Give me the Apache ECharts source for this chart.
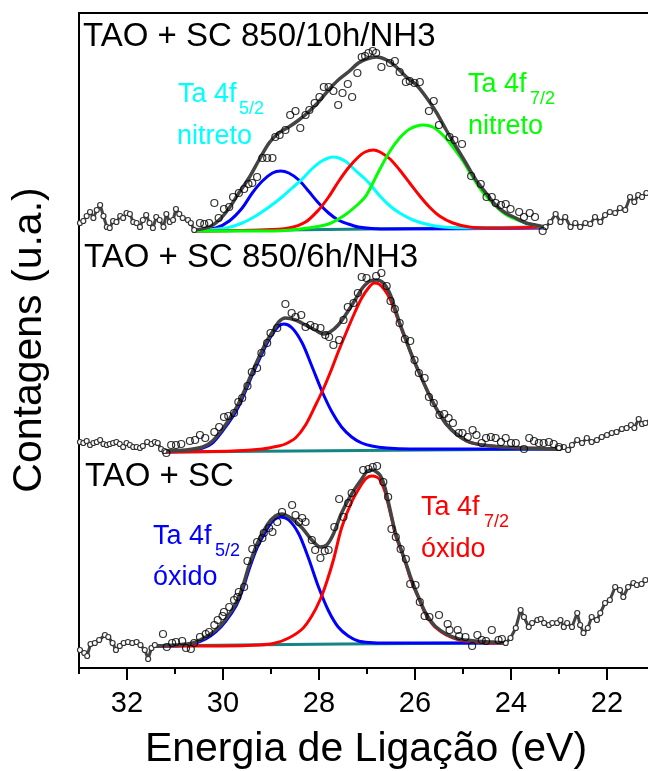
<!DOCTYPE html>
<html>
<head>
<meta charset="utf-8">
<script src="https://cdn.jsdelivr.net/npm/echarts/dist/echarts.min.js"></script>
<style>html,body{margin:0;padding:0;background:#fff;overflow:hidden;width:648px;height:771px;}#c{width:710px;height:771px;}</style>
</head>
<body>
<div id="c"></div>
<script>
// ---------- DATA (x = binding energy eV, y = counts a.u.) ----------
const xTickLabels = [32, 30, 28, 26, 24, 22];

// Top: TAO + SC 850/10h/NH3
const s1NoiseL = [[32.98,445],[32.91,447],[32.84,452],[32.77,456],[32.70,450],[32.63,458],[32.56,463],[32.49,452],[32.42,441],[32.36,440],[32.29,447],[32.22,446],[32.14,452],[32.08,450],[32.01,455],[31.94,454],[31.87,446],[31.80,445],[31.73,441],[31.67,448],[31.60,453],[31.53,445],[31.46,440],[31.39,451],[31.32,448],[31.24,441],[31.18,454],[31.11,446],[31.04,448],[30.98,459],[30.91,454],[30.84,450],[30.73,448],[30.67,445],[30.60,438]];
const s1NoiseR = [[23.28,441],[23.18,446],[23.07,454],[22.97,446],[22.87,451],[22.76,441],[22.66,445],[22.56,441],[22.45,445],[22.35,444],[22.25,451],[22.14,446],[22.04,453],[21.94,456],[21.83,455],[21.73,460],[21.62,458],[21.52,471],[21.43,466],[21.35,473],[21.27,471],[21.18,475],[21.05,478]];
const s1Points = [[30.48,445],[30.39,444],[30.29,445],[30.18,465],[30.09,450],[29.98,459],[29.87,461],[29.79,471],[29.67,475],[29.56,479],[29.47,484],[29.39,485],[29.29,491],[29.18,510],[29.08,510],[28.97,510],[28.91,531],[28.82,533],[28.70,538],[28.60,553],[28.49,557],[28.39,540],[28.28,553],[28.20,558],[28.09,565],[27.99,571],[27.90,581],[27.80,581],[27.70,577],[27.60,563],[27.51,575],[27.40,584],[27.31,571],[27.20,595],[27.11,611],[27.04,612],[26.97,615],[26.88,617],[26.81,615],[26.70,601],[26.52,605],[26.42,607],[26.32,596],[26.19,586],[26.11,587],[26.01,585],[25.90,586],[25.71,557],[25.61,567],[25.50,543],[25.28,531],[25.18,528],[25.02,524],[24.83,492],[24.63,484],[24.51,471],[24.40,471],[24.32,465],[24.21,463],[24.11,464],[24.01,459],[23.83,456],[23.73,451],[23.61,455],[23.50,451],[23.34,437]];
const s1Envelope = [[30.60,438],[30.29,441],[30.08,448],[29.87,460],[29.67,475],[29.46,490],[29.25,508],[29.04,525],[28.84,535],[28.63,541],[28.42,548],[28.22,556],[28.01,566],[27.80,578],[27.60,588],[27.39,596],[27.18,605],[27.01,609],[26.80,611],[26.59,608],[26.39,601],[26.18,591],[25.97,583],[25.77,571],[25.56,556],[25.35,538],[25.14,521],[24.94,505],[24.73,488],[24.52,475],[24.32,463],[24.11,455],[23.90,450],[23.69,445],[23.49,443],[23.28,441]];
const s1Blue = [[30.60,437],[30.15,440],[29.87,447],[29.60,460],[29.39,475],[29.18,487],[28.97,495],[28.80,497],[28.63,495],[28.42,488],[28.22,477],[28.01,465],[27.80,455],[27.60,448],[27.39,444],[27.18,441],[26.90,439.5],[26.50,439],[23.28,440]];
const s1Cyan = [[30.60,437],[29.94,440],[29.60,445],[29.32,452],[29.04,461],[28.77,471],[28.56,480],[28.37,488],[28.15,499],[27.94,507],[27.70,511],[27.46,507],[27.25,498],[27.04,489],[26.94,484],[26.73,472],[26.52,462],[26.32,455],[26.04,448],[25.77,444],[25.42,441],[24.94,440],[23.28,441]];
const s1Red = [[30.60,437],[29.18,438],[28.63,440],[28.28,446],[28.01,458],[27.80,471],[27.60,486],[27.39,500],[27.18,511],[27.04,516],[26.87,518],[26.73,516],[26.52,509],[26.32,498],[26.11,485],[25.90,472],[25.70,461],[25.49,452],[25.21,445],[24.87,441],[24.38,440],[23.28,441]];
const s1Green = [[30.60,437],[28.91,437],[28.22,440],[27.80,444],[27.46,453],[27.18,464],[27.04,471],[26.94,479],[26.73,499],[26.52,517],[26.32,530],[26.11,539],[25.83,543],[25.63,541],[25.42,533],[25.21,521],[25.00,507],[24.80,491],[24.59,476],[24.38,465],[24.18,456],[23.97,450],[23.69,445],[23.42,442],[23.28,441]];
const s1Base = [[30.60,437],[23.28,441]];

// Middle: TAO + SC 850/6h/NH3
const s2NoiseL = [[32.98,226],[32.91,225],[32.84,227],[32.77,223],[32.70,225],[32.63,226],[32.56,228],[32.49,224],[32.42,223],[32.36,224],[32.29,225],[32.22,226],[32.15,224],[32.08,221],[32.01,225],[31.94,223],[31.87,221],[31.80,221],[31.73,220],[31.67,222],[31.58,226],[31.49,224],[31.42,226],[31.36,225],[31.29,219],[31.22,217]];
const s2NoiseR = [[23.00,220],[22.90,221],[22.81,218],[22.73,223],[22.62,228],[22.52,225],[22.42,230],[22.32,226],[22.21,228],[22.11,231],[22.00,233],[21.90,235],[21.80,236],[21.69,239],[21.59,240],[21.50,243],[21.43,240],[21.34,249],[21.27,244],[21.20,245],[21.05,250]];
const s2Points = [[31.18,215],[31.08,223],[30.98,223],[30.87,224],[30.69,227],[30.58,228],[30.48,233],[30.37,230],[30.18,236],[30.08,241],[29.98,251],[29.89,252],[29.77,255],[29.68,266],[29.60,270],[29.49,282],[29.40,296],[29.29,300],[29.20,315],[29.08,325],[29.01,335],[28.87,340],[28.70,364],[28.57,355],[28.49,351],[28.37,353],[28.28,341],[28.18,343],[28.09,341],[27.97,340],[27.87,333],[27.79,331],[27.70,323],[27.58,328],[27.49,348],[27.40,361],[27.28,365],[27.19,375],[27.11,391],[27.01,390],[26.81,392],[26.70,395],[26.59,382],[26.51,367],[26.42,359],[26.32,345],[26.21,329],[26.10,327],[26.01,308],[25.92,295],[25.80,290],[25.71,271],[25.61,265],[25.49,253],[25.39,254],[25.30,250],[25.21,245],[25.09,235],[25.01,235],[24.90,231],[24.80,238],[24.72,233],[24.61,225],[24.52,230],[24.42,231],[24.32,230],[24.21,226],[24.11,230],[24.00,225],[23.90,225],[23.73,219],[23.62,230],[23.52,227],[23.42,225],[23.32,225],[23.21,226],[23.11,224],[23.00,221]];
const s2Envelope = [[31.22,217],[30.77,218],[30.42,221],[30.22,227],[30.01,239],[29.80,254],[29.67,265],[29.53,280],[29.39,296],[29.25,311],[29.11,325],[28.97,336],[28.84,346],[28.70,350],[28.49,348],[28.28,343],[28.08,338],[27.91,334],[27.77,336],[27.60,343],[27.42,355],[27.25,368],[27.11,379],[27.02,384],[26.94,387],[26.80,388],[26.66,385],[26.52,374],[26.42,360],[26.32,345],[26.21,331],[26.11,318],[26.01,306],[25.90,294],[25.77,280],[25.63,266],[25.49,254],[25.35,244],[25.14,234],[24.87,226],[24.59,223],[24.18,221],[23.69,220],[23.14,219],[23.00,219]];
const s2Blue = [[31.22,216],[30.77,217],[30.42,220],[30.22,225],[30.01,237],[29.80,251],[29.67,262],[29.53,277],[29.39,293],[29.25,308],[29.11,322],[28.97,334],[28.84,342],[28.73,344],[28.56,340],[28.35,325],[28.15,302],[27.94,277],[27.73,256],[27.53,241],[27.32,231],[27.11,225],[26.90,222],[26.59,220],[26.11,219],[23.00,219]];
const s2Red = [[31.22,216],[29.80,217],[29.18,219],[28.84,222],[28.70,224],[28.49,230],[28.28,243],[28.08,262],[27.91,279],[27.77,295],[27.60,316],[27.42,337],[27.25,356],[27.11,370],[26.97,380],[26.85,385],[26.75,384],[26.63,378],[26.52,369],[26.42,357],[26.32,344],[26.21,330],[26.11,318],[26.01,306],[25.90,294],[25.77,280],[25.63,266],[25.49,254],[25.35,244],[25.14,234],[24.87,226],[24.59,223],[24.18,221],[23.69,220],[23.00,219]];
const s2Base = [[31.22,216],[23.00,219]];

// Bottom: TAO + SC
const s3NoiseL = [[32.98,18],[32.89,15],[32.83,12],[32.76,24],[32.67,25],[32.58,28],[32.46,33],[32.39,31],[32.30,25],[32.23,18],[32.15,22],[32.07,25],[31.98,26],[31.89,25],[31.80,26],[31.72,23],[31.63,18],[31.56,9],[31.49,20],[31.42,23]];
const s3NoiseR = [[24.11,25],[24.01,30],[23.90,40],[23.80,58],[23.73,51],[23.63,41],[23.56,45],[23.45,48],[23.38,49],[23.31,45],[23.21,43],[23.14,45],[23.04,45],[22.97,48],[22.90,41],[22.83,45],[22.73,41],[22.62,55],[22.56,43],[22.49,35],[22.40,40],[22.32,51],[22.21,48],[22.14,55],[22.04,65],[21.94,68],[21.83,81],[21.73,78],[21.66,71],[21.56,81],[21.45,85],[21.38,83],[21.28,84],[21.20,88],[21.05,90]];
const s3Points = [[31.25,34],[31.17,21],[31.06,25],[30.98,26],[30.85,27],[30.77,20],[30.67,19],[30.60,25],[30.48,31],[30.36,34],[30.29,36],[30.18,43],[30.11,48],[30.01,52],[29.98,56],[29.87,61],[29.77,68],[29.70,71],[29.67,76],[29.56,81],[29.49,107],[29.39,119],[29.29,126],[29.18,130],[29.15,135],[29.04,140],[28.97,136],[28.87,146],[28.77,156],[28.56,163],[28.49,153],[28.42,146],[28.35,150],[28.28,146],[28.15,128],[28.08,118],[27.97,110],[27.88,117],[27.80,118],[27.68,141],[27.58,169],[27.49,151],[27.39,165],[27.32,175],[27.08,198],[26.97,199],[26.88,201],[26.79,202],[26.66,186],[26.56,171],[26.49,139],[26.40,131],[26.30,119],[26.19,109],[26.10,84],[25.99,83],[25.90,66],[25.80,52],[25.70,51],[25.50,53],[25.32,44],[25.28,38],[25.11,38],[25.08,32],[24.95,31],[24.81,22],[24.70,33],[24.61,28],[24.52,27],[24.40,38],[24.26,28],[24.19,29]];
const s3Envelope = [[31.42,22],[30.98,23],[30.63,25],[30.36,31],[30.15,38],[29.94,49],[29.73,65],[29.60,80],[29.46,102],[29.29,124],[29.08,143],[28.91,152],[28.77,154],[28.56,149],[28.35,140],[28.15,128],[27.97,121],[27.84,123],[27.70,134],[27.53,155],[27.32,174],[27.11,189],[27.01,196],[26.90,198],[26.73,193],[26.63,181],[26.56,167],[26.49,152],[26.40,134],[26.30,120],[26.19,105],[26.10,92],[25.99,78],[25.90,68],[25.80,57],[25.70,49],[25.56,41],[25.35,34],[25.08,29],[24.73,27],[24.38,26],[24.11,25]];
const s3Blue = [[31.42,22],[30.98,22],[30.63,24],[30.36,29],[30.15,36],[29.94,47],[29.73,62],[29.60,77],[29.46,98],[29.29,120],[29.08,139],[28.94,148],[28.80,151],[28.63,148],[28.42,134],[28.22,110],[28.01,81],[27.80,57],[27.60,41],[27.39,32],[27.18,27],[26.95,25.5],[26.59,25],[24.11,25]];
const s3Red = [[31.42,22],[30.01,22],[29.25,23],[28.91,25],[28.63,30],[28.35,39],[28.15,52],[27.97,69],[27.84,86],[27.70,108],[27.53,140],[27.32,166],[27.11,184],[27.01,190],[26.90,192],[26.80,191],[26.73,188],[26.63,177],[26.56,164],[26.49,150],[26.40,132],[26.30,119],[26.19,104],[26.10,90],[25.99,77],[25.90,67],[25.80,56],[25.70,48],[25.56,40],[25.35,33],[25.08,28],[24.73,26],[24.38,25],[24.11,25]];
const s3Base = [[31.42,22],[27.50,24],[24.11,25]];

// ---------- STYLE ----------
const FONT = "'Liberation Sans', Arial, sans-serif";
const GRAY = '#444444';
const TEAL = '#138585';

function curve(data, color, width, z) {
  return {type:'line', data:data, xAxisIndex:0, yAxisIndex:0, symbol:'none', showSymbol:false,
    smooth:0.3, lineStyle:{color:color, width:width}, z:z, silent:true, animation:false};
}
function noise(data) {
  return {type:'line', data:data, xAxisIndex:0, yAxisIndex:0, symbol:'circle', symbolSize:5, showSymbol:true,
    lineStyle:{color:GRAY, width:3}, itemStyle:{color:'#ffffff', borderColor:'#333', borderWidth:1.2}, z:6, silent:true, animation:false};
}
function pts(data) {
  return {type:'scatter', data:data, xAxisIndex:0, yAxisIndex:0, symbol:'circle', symbolSize:7,
    itemStyle:{color:'rgba(255,255,255,0)', borderColor:'#000', borderWidth:1.2}, z:8, silent:true, animation:false};
}

const series = [
  curve(s1Base, TEAL, 3, 2), curve(s1Blue, '#0000ff', 3, 3), curve(s1Cyan, '#00ffff', 3, 3), curve(s1Red, '#ff0000', 3, 3), curve(s1Green, '#00ff00', 3, 3),
  curve(s1Envelope, GRAY, 3.5, 5), noise(s1NoiseL), noise(s1NoiseR), pts(s1Points),
  curve(s2Base, TEAL, 3, 2), curve(s2Blue, '#0000ff', 3, 3), curve(s2Red, '#ff0000', 3, 3),
  curve(s2Envelope, GRAY, 3.5, 5), noise(s2NoiseL), noise(s2NoiseR), pts(s2Points),
  curve(s3Base, TEAL, 3, 2), curve(s3Blue, '#0000ff', 3, 3), curve(s3Red, '#ff0000', 3, 3),
  curve(s3Envelope, GRAY, 3.5, 5), noise(s3NoiseL), noise(s3NoiseR), pts(s3Points)
];

function txt(x, y, text, size, color, extra) {
  return Object.assign({type:'text', x:x, y:y, z:20, silent:true,
    style:{text:text, font: size + 'px ' + FONT, fill:color, align:'left', verticalAlign:'middle'}}, extra || {});
}

const graphics = [
  txt(83, 37, 'TAO + SC 850/10h/NH3', 33, '#000'),
  txt(84, 258, 'TAO + SC 850/6h/NH3', 33, '#000'),
  txt(85, 477, 'TAO + SC', 33, '#000'),
  txt(178, 95, 'Ta 4f', 27, '#00ffff'), txt(239, 108.6, '5/2', 18, '#00ffff'), txt(177, 137, 'nitreto', 27, '#00ffff'),
  txt(468, 85, 'Ta 4f', 27, '#00ff00'), txt(530, 98.6, '7/2', 18, '#00ff00'), txt(468, 127, 'nitreto', 27, '#00ff00'),
  txt(153, 537, 'Ta 4f', 27, '#0000ff'), txt(215, 550.6, '5/2', 18, '#0000ff'), txt(153, 578, 'óxido', 27, '#0000ff'),
  txt(421, 508, 'Ta 4f', 27, '#ff0000'), txt(484, 522, '7/2', 18, '#ff0000'), txt(421, 550, 'óxido', 27, '#ff0000'),
  {type:'text', x:366, y:750, z:20, silent:true,
    style:{text:'Energia de Ligação (eV)', font:'41px ' + FONT, fill:'#000', align:'center', verticalAlign:'middle'}},
  {type:'text', x:30, y:340, rotation:Math.PI/2, z:20, silent:true,
    style:{text:'Contagens (u.a.)', font:'41px ' + FONT, fill:'#000', align:'center', verticalAlign:'middle'}}
];

const chart = echarts.init(document.getElementById('c'), null, {renderer:'canvas'});
chart.setOption({
  animation:false,
  backgroundColor:'#ffffff',
  grid:[
    {left:79, top:13, width:576, height:655, show:true, borderColor:'#000', borderWidth:2, backgroundColor:'rgba(0,0,0,0)'},
    {left:127, top:13, width:576, height:655, show:false}
  ],
  xAxis:[
    {gridIndex:0, type:'value', inverse:true, min:21, max:33, interval:1,
      axisLine:{show:true, onZero:false, lineStyle:{color:'#000', width:2}},
      axisTick:{show:true, length:6, lineStyle:{color:'#000', width:2}},
      axisLabel:{show:false}, splitLine:{show:false}},
    {gridIndex:1, type:'value', inverse:true, min:20, max:32, interval:2,
      axisLine:{show:false, onZero:false},
      axisTick:{show:true, length:12, lineStyle:{color:'#000', width:2}},
      axisLabel:{show:true, fontSize:29, color:'#000', fontFamily:FONT, margin:21, showMinLabel:false, showMaxLabel:true,
        formatter:function(v){ return xTickLabels.indexOf(v) >= 0 ? String(v) : ''; }},
      splitLine:{show:false}}
  ],
  yAxis:[
    {gridIndex:0, type:'value', min:0, max:655,
      axisLine:{show:true, onZero:false, lineStyle:{color:'#000', width:2}},
      axisTick:{show:false}, axisLabel:{show:false}, splitLine:{show:false}},
    {gridIndex:1, type:'value', min:0, max:655, show:false}
  ],
  series:series,
  graphic:graphics
});
</script>
</body>
</html>
